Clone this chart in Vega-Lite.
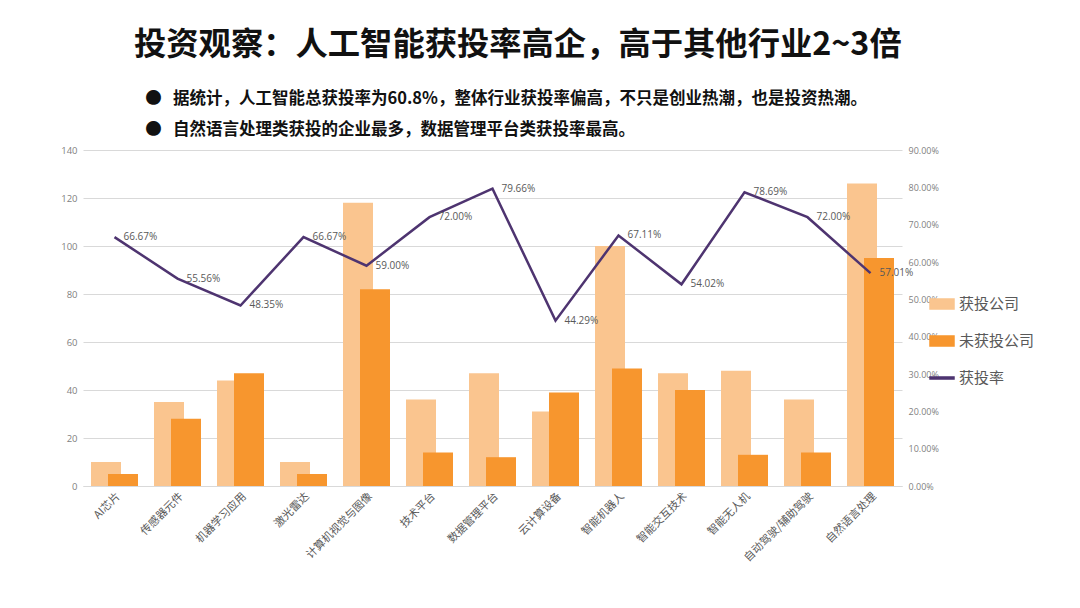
{
  "$schema": "https://vega.github.io/schema/vega-lite/v6.json",
  "autosize": "none",
  "width": 819,
  "height": 336,
  "padding": {"left": 83, "top": 150, "right": 178, "bottom": 122},
  "background": "#ffffff",
  "config": {
    "view": {"stroke": null},
    "font": "Noto Sans CJK SC"
  },
  "title": {
    "text": "投资观察：人工智能获投率高企，高于其他行业2~3倍",
    "subtitle": ["\u200b\u00a0\u00a0\u00a0●\u00a0\u00a0\u00a0据统计，人工智能总获投率为60.8%，整体行业获投率偏高，不只是创业热潮，也是投资热潮。", "\u200b\u00a0\u00a0\u00a0●\u00a0\u00a0\u00a0自然语言处理类获投的企业最多，数据管理平台类获投率最高。"],
    "anchor": "start",
    "frame": "group",
    "dx": 51,
    "offset": 7,
    "font": "Noto Sans CJK SC",
    "fontSize": 32.3,
    "fontWeight": "bold",
    "color": "#111111",
    "subtitleFont": "Noto Sans CJK SC",
    "subtitleFontSize": 16.5,
    "subtitleFontWeight": "bold",
    "subtitleColor": "#111111",
    "subtitleLineHeight": 31,
    "subtitlePadding": 29
  },
  "data": {
    "values": [
      {"cat": "AI芯片", "funded": 10, "unfunded": 5, "rate": 0.6667},
      {"cat": "传感器元件", "funded": 35, "unfunded": 28, "rate": 0.5556},
      {"cat": "机器学习应用", "funded": 44, "unfunded": 47, "rate": 0.4835},
      {"cat": "激光雷达", "funded": 10, "unfunded": 5, "rate": 0.6667},
      {"cat": "计算机视觉与图像", "funded": 118, "unfunded": 82, "rate": 0.59},
      {"cat": "技术平台", "funded": 36, "unfunded": 14, "rate": 0.72},
      {"cat": "数据管理平台", "funded": 47, "unfunded": 12, "rate": 0.7966},
      {"cat": "云计算设备", "funded": 31, "unfunded": 39, "rate": 0.4429},
      {"cat": "智能机器人", "funded": 100, "unfunded": 49, "rate": 0.6711},
      {"cat": "智能交互技术", "funded": 47, "unfunded": 40, "rate": 0.5402},
      {"cat": "智能无人机", "funded": 48, "unfunded": 13, "rate": 0.7869},
      {"cat": "自动驾驶/辅助驾驶", "funded": 36, "unfunded": 14, "rate": 0.72},
      {"cat": "自然语言处理", "funded": 126, "unfunded": 95, "rate": 0.5701}
    ]
  },
  "encoding": {
    "x": {
      "field": "cat",
      "type": "nominal",
      "sort": null,
      "scale": {"paddingInner": 0, "paddingOuter": 0},
      "axis": {
        "title": null,
        "labelAngle": -45,
        "labelFontSize": 11,
        "labelColor": "#595959",
        "labelPadding": 4,
        "ticks": false,
        "domain": true,
        "domainColor": "#d9d9d9",
        "grid": false
      }
    }
  },
  "layer": [
    {
      "layer": [
        {
          "mark": {"type": "bar", "width": 30, "xOffset": -8.5},
          "encoding": {
            "y": {
              "field": "funded",
              "type": "quantitative",
              "scale": {"domain": [0, 140]},
              "axis": {
                "title": null,
                "values": [0, 20, 40, 60, 80, 100, 120, 140],
                "grid": true,
                "gridColor": "#d9d9d9",
                "domain": false,
                "ticks": false,
                "labelColor": "#7f7f7f",
                "labelFontSize": 9.5,
                "labelFont": "Open Sans",
                "labelPadding": 6
              }
            },
            "color": {
              "datum": "获投公司",
              "type": "nominal",
              "scale": {"domain": ["获投公司", "未获投公司", "获投率"], "range": ["#FAC58F", "#F7962E", "#4E3470"]},
              "legend": {
                "title": null,
                "orient": "none",
                "legendX": 846,
                "legendY": 141,
                "labelFontSize": 15,
                "labelColor": "#595959",
                "labelFont": "Noto Sans CJK SC",
                "labelOffset": 4,
                "rowPadding": 15,
                "symbolSize": 576,
                "symbolType": "M-1,-0.42H1V0.42H-1Z",
                "encode": {
                  "symbols": {
                    "update": {
                      "shape": {"signal": "datum.value === '获投率' ? 'M-1,-0.09H1V0.09H-1Z' : 'M-1,-0.42H1V0.42H-1Z'"},
                      "fill": {"signal": "scale('color', datum.value)"},
                      "stroke": {"value": "transparent"},
                      "opacity": {"value": 1}
                    }
                  }
                }
              }
            }
          }
        },
        {
          "mark": {"type": "bar", "width": 30, "xOffset": 8.5},
          "encoding": {
            "y": {"field": "unfunded", "type": "quantitative"},
            "color": {"datum": "未获投公司", "type": "nominal"}
          }
        }
      ]
    },
    {
      "encoding": {
        "y": {
          "field": "rate",
          "type": "quantitative",
          "scale": {"domain": [0, 0.9]},
          "axis": {
            "title": null,
            "orient": "right",
            "values": [0, 0.1, 0.2, 0.3, 0.4, 0.5, 0.6, 0.7, 0.8, 0.9],
            "format": ".2%",
            "grid": false,
            "domain": false,
            "ticks": false,
            "labelOverlap": false,
            "labelColor": "#7f7f7f",
            "labelFontSize": 9,
            "labelFont": "Open Sans",
            "labelPadding": 6
          }
        }
      },
      "layer": [
        {
          "mark": {"type": "line", "strokeWidth": 2.5},
          "encoding": {
            "color": {"datum": "获投率", "type": "nominal"}
          }
        },
        {
          "mark": {"type": "text", "align": "left", "baseline": "middle", "dx": 9, "fontSize": 10, "font": "Open Sans", "color": "#595959"},
          "encoding": {
            "text": {"field": "rate", "type": "quantitative", "format": ".2%"}
          }
        }
      ]
    }
  ],
  "resolve": {"scale": {"y": "independent"}}
}
